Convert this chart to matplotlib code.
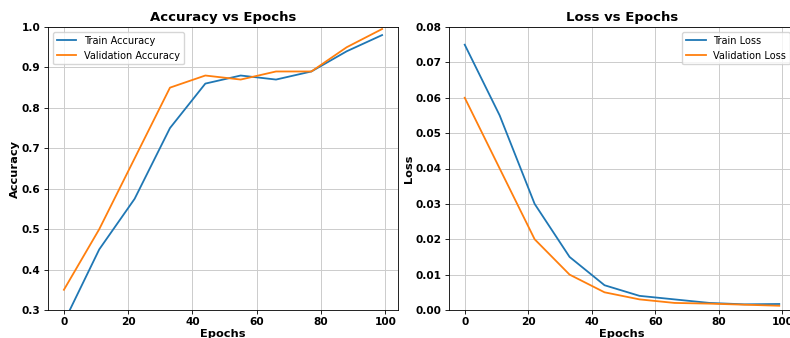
import numpy as np
import matplotlib
matplotlib.use("Agg")
import matplotlib.pyplot as plt

# Эпохи и значения метрик
epochs = [0, 11, 22, 33, 44, 55, 66, 77, 88, 99]
train_acc = [0.27, 0.45, 0.575, 0.75, 0.86, 0.88, 0.87, 0.89, 0.94, 0.98]
val_acc = [0.35, 0.50, 0.675, 0.85, 0.88, 0.87, 0.89, 0.89, 0.95, 0.995]
train_loss = [0.075, 0.055, 0.030, 0.015, 0.007, 0.004, 0.003, 0.002, 0.0016, 0.0017]
val_loss = [0.060, 0.040, 0.020, 0.010, 0.005, 0.003, 0.002, 0.0018, 0.0015, 0.0012]

# Картинка выглядит уменьшенной примерно в 0.76 раза
s = 0.76
plt.rcParams.update({
    'xtick.major.size': 3.5 * s, 'ytick.major.size': 3.5 * s,
    'xtick.major.pad': 3.5 * s, 'ytick.major.pad': 3.5 * s,
    'xtick.major.width': 0.8 * s, 'ytick.major.width': 0.8 * s,
    'axes.linewidth': 0.8 * s,
})

fig = plt.figure(figsize=(7.9, 3.38), dpi=100)
W, H = 790, 338
ax1 = fig.add_axes([48 / W, 28 / H, 350 / W, 283 / H])
ax2 = fig.add_axes([449 / W, 28 / H, 346 / W, 283 / H])


def style(ax, title, ylabel):
    ax.set_title(title, fontsize=9.5, fontweight='bold', pad=4.5)
    ax.set_xlabel('Epochs', fontsize=8.2, fontweight='bold', labelpad=1.5)
    ax.set_ylabel(ylabel, fontsize=8.2, fontweight='bold', labelpad=1.5)
    ax.grid(True, color='#cccccc', linewidth=0.7)
    ax.set_axisbelow(True)
    for lab in ax.get_xticklabels() + ax.get_yticklabels():
        lab.set_fontweight('bold')
        lab.set_fontsize(7.6)


# Точность
ax1.plot(epochs, train_acc, label='Train Accuracy', linewidth=1.3)
ax1.plot(epochs, val_acc, label='Validation Accuracy', linewidth=1.3)
ax1.set_ylim(0.3, 1.0)
ax1.legend(loc='upper left', fontsize=7)
style(ax1, 'Accuracy vs Epochs', 'Accuracy')

# Потери
ax2.plot(epochs, train_loss, label='Train Loss', linewidth=1.3)
ax2.plot(epochs, val_loss, label='Validation Loss', linewidth=1.3)
ax2.set_ylim(0.0, 0.08)
ax2.legend(loc='upper right', fontsize=7)
style(ax2, 'Loss vs Epochs', 'Loss')

fig.savefig('out.png', dpi=100)
